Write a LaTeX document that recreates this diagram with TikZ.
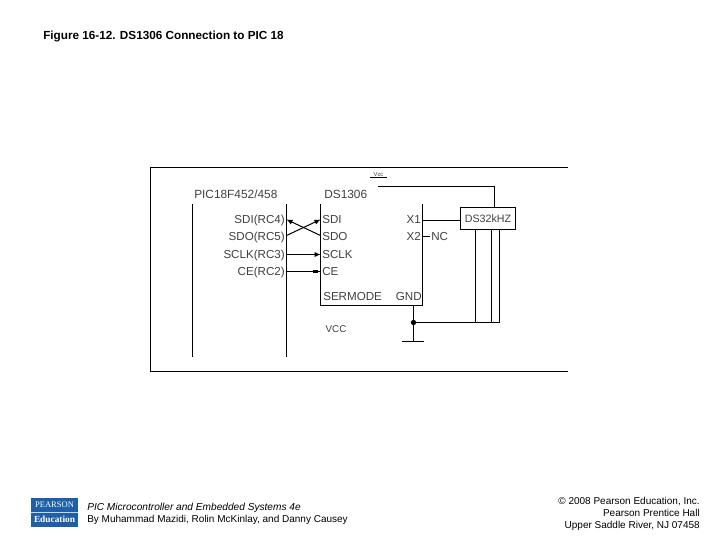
\documentclass[tikz,border=0pt]{standalone}
\usepackage{fontspec}
\setmainfont{Liberation Sans}
\newfontfamily\logofont{Liberation Serif}
\usetikzlibrary{arrows.meta}
\definecolor{pblue}{HTML}{1F5FA8}
\definecolor{lbl}{HTML}{404040}
\tikzset{
 x=0.75pt,y=-0.75pt,
 wire/.style={draw=black,line width=0.75pt},
 arrowwire/.style={wire,-{Latex[length=4.5pt,width=4pt]}},
 pinl/.style={font=\fontsize{8.7}{10}\selectfont,text=lbl,inner sep=0pt,anchor=base east},
 pinr/.style={font=\fontsize{8.7}{10}\selectfont,text=lbl,inner sep=0pt,anchor=base west},
 head/.style={font=\fontsize{8.9}{10}\selectfont,text=lbl,inner sep=0pt,anchor=base west},
 cap8/.style={font=\fontsize{7.5}{9}\selectfont,inner sep=0pt},
 box/.style={draw=black,line width=0.75pt,fill=white,inner sep=0pt},
}
\begin{document}
\begin{tikzpicture}
\useasboundingbox (0,0) rectangle (720,540);
\fill[white] (0,0) rectangle (720,540);
\node[font=\fontsize{8.8}{10}\selectfont\bfseries,anchor=base west,inner sep=0pt] (title) at (43,39) {Figure 16-12. DS1306 Connection to PIC 18};
% frame
\draw[wire] (568,167.5) -- (150.5,167.5) -- (150.5,371.5) -- (568,371.5);
% PIC
\coordinate (pa) at (192.5,204); \coordinate (pb) at (192.5,357);
\coordinate (pc) at (286.5,204); \coordinate (pd) at (286.5,357);
\draw[wire] (pa) -- (pb);
\draw[wire] (pc) -- (pd);
\node[head] (pich) at (194,198) {PIC18F452/458};
\node[head] (dsh) at (324,198) {DS1306};
% DS1306
\coordinate (da) at (320.5,204); \coordinate (db) at (320.5,305.5);
\coordinate (dc) at (422.5,305.5); \coordinate (dd) at (422.5,204);
\draw[wire] (da) -- (db) -- (dc) -- (dd);
% pin coordinates
\coordinate (l1) at (286.5,219.5); \coordinate (l2) at (286.5,235.5);
\coordinate (l3) at (286.5,254.5); \coordinate (l4) at (286.5,271.5);
\coordinate (r1) at (320.5,219.5); \coordinate (r2) at (320.5,235.5);
\coordinate (r3) at (320.5,254.5); \coordinate (r4) at (320.5,271.5);
\node[pinl] (s1) at (285,223) {SDI(RC4)};
\node[pinl] (s2) at (285,240) {SDO(RC5)};
\node[pinl] (s3) at (285,258) {SCLK(RC3)};
\node[pinl] (s4) at (285,275) {CE(RC2)};
\node[pinr] (t1) at (322,223) {SDI};
\node[pinr] (t2) at (322,240) {SDO};
\node[pinr] (t3) at (322,258) {SCLK};
\node[pinr] (t4) at (322,275) {CE};
\node[pinr] (t5) at (323,300) {SERMODE};
\node[pinl] (t6) at (422,300) {GND};
\node[pinl] (x1) at (421,223.5) {X1};
\node[pinl] (x2) at (421,240) {X2};
\node[pinr] (nc) at (431,240) {NC};
\node[font=\fontsize{7.4}{9}\selectfont,text=lbl,inner sep=0pt] (vcc) at (336,329) {VCC};
\node[font=\fontsize{4.4}{5}\selectfont,text=lbl,inner sep=0pt] (vss) at (378.5,174.5) {Vcc};
\coordinate (vu1) at (370,177.5); \coordinate (vu2) at (387,177.5);
\draw[black,line width=0.5pt] (vu1) -- (vu2);
% wires
\draw[arrowwire] (r2) -- (l1);
\draw[arrowwire] (l2) -- (r1);
\draw[arrowwire] (l3) -- (r3);
\draw[wire] (l4) -- (r4);
\fill (313,270) rectangle (318,273);
% crystal
\node[box,minimum width=41.25pt,minimum height=16.5pt,font=\fontsize{8}{9}\selectfont,text=lbl] (xt) at (488,218.5) {DS32kHZ};
\coordinate (vs) at (378,186.5);
\coordinate (vk) at (494.5,186.5);
\draw[wire] (vs) -- (vk) -- (xt.north -| vk);
\coordinate (xa) at (422.5,220.5);
\draw[wire] (xa) -- (xa -| xt.west);
\coordinate (na) at (422.5,236.5); \coordinate (nb) at (430,236.5);
\draw[wire] (na) -- (nb);
% ground
\coordinate (g1) at (413.5,305.5); \coordinate (g2) at (413.5,341.5);
\coordinate (gj) at (413.5,322.5);
\coordinate (gl) at (402,341.5); \coordinate (gr) at (424,341.5);
\draw[wire] (g1) -- (g2);
\draw[wire] (gl) -- (gr);
\fill (gj) circle[radius=2pt];
\coordinate (v1) at (475.5,322.5); \coordinate (v2) at (491.5,322.5); \coordinate (v3) at (499.5,322.5);
\draw[wire] (gj) -- (v3);
\draw[wire] (v1) -- (v1 |- xt.south);
\draw[wire] (v2) -- (v2 |- xt.south);
\draw[wire] (v3) -- (v3 |- xt.south);
% logo
\fill[pblue] (31,498) rectangle (78,526.5);
\fill[white!75!pblue] (31,512) rectangle (78,513);
\node[font=\logofont\fontsize{6.4}{7}\selectfont,text=white,inner sep=0pt] (lg1) at (54.5,505) {PEARSON};
\node[font=\logofont\bfseries\fontsize{7}{8}\selectfont,text=white,inner sep=0pt] (lg2) at (54.5,519.5) {Education};
% footer
\node[cap8,anchor=base west,font=\fontsize{7.6}{9}\selectfont\itshape] (f1) at (87,510) {PIC Microcontroller and Embedded Systems 4e};
\node[cap8,anchor=base west] (f2) at (87,522) {By Muhammad Mazidi, Rolin McKinlay, and Danny Causey};
\node[cap8,anchor=base east] (c1) at (700,504) {© 2008 Pearson Education, Inc.};
\node[cap8,anchor=base east] (c2) at (700,516) {Pearson Prentice Hall};
\node[cap8,anchor=base east] (c3) at (700,528) {Upper Saddle River, NJ 07458};
\end{tikzpicture}
\end{document}
